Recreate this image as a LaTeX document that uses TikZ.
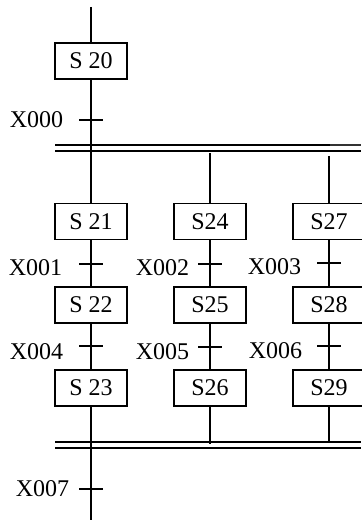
\documentclass[tikz,border=0pt]{standalone}
\usepackage{fontspec}
\setmainfont{Liberation Serif}
\begin{document}
\begin{tikzpicture}[x=1pt,y=-1pt,line width=1.6pt,
  stepbox/.style={draw,minimum width=72pt,minimum height=36pt,inner sep=0pt,font=\fontsize{24}{28}\selectfont},
  lab/.style={anchor=east,inner sep=0pt,font=\fontsize{24}{28}\selectfont},
  trans/.style={line width=1.6pt}]
\useasboundingbox (0,0) rectangle (361,521);
% steps
\node[stepbox] (s20) at (91,61) {S 20};
\node[stepbox] (s21) at (91,221.5) {S 21};
\node[stepbox] (s22) at (91,305) {S 22};
\node[stepbox] (s23) at (91,388) {S 23};
\node[stepbox] (s24) at (210,221.5) {S24};
\node[stepbox] (s25) at (210,305) {S25};
\node[stepbox] (s26) at (210,388) {S26};
\node[stepbox] (s27) at (329,221.5) {S27};
\node[stepbox] (s28) at (329,305) {S28};
\node[stepbox] (s29) at (329,388) {S29};
% free ends
\coordinate (top) at (91,7);
\coordinate (bot) at (91,520);
\coordinate (c2top) at (210,153);
\coordinate (c3top) at (329,156);
\coordinate (c2bot) at (210,444);
\coordinate (c3bot) at (329,442);
% vertical links
\draw (top) -- (s20);
\draw (s20) -- (s21);
\draw (s21) -- (s22);
\draw (s22) -- (s23);
\draw (s23) -- (bot);
\draw (c2top) -- (s24);
\draw (s24) -- (s25);
\draw (s25) -- (s26);
\draw (s26) -- (c2bot);
\draw (c3top) -- (s27);
\draw (s27) -- (s28);
\draw (s28) -- (s29);
\draw (s29) -- (c3bot);
% double bars
\coordinate (b1l) at (55,145);
\coordinate (b1m) at (330,145);
\coordinate (b1r) at (361,145);
\coordinate (b2l) at (55,151);
\coordinate (b2r) at (361,151);
\coordinate (b3l) at (55,442);
\coordinate (b3r) at (361,442);
\coordinate (b4l) at (55,448);
\coordinate (b4r) at (361,448);
\draw[line width=2.4pt] (b1l) -- (b1m);
\draw[line width=2.4pt,black!80] (b1m) -- (b1r);
\draw (b2l) -- (b2r);
\draw (b3l) -- (b3r);
\draw (b4l) -- (b4r);
% transitions
\foreach \n/\x/\y in {t0/91/120,t1/91/264,t2/210/264,t3/329/263,t4/91/346,t5/210/347,t6/329/346,t7/91/489}{
  \coordinate (\n) at (\x,\y);
  \draw[trans] (\n) ++(-12,0) -- ++(24,0);
}
% labels
\node[lab] (l0) at (64,120) {X000};
\node[lab] (l1) at (63,268) {X001};
\node[lab] (l2) at (190,268) {X002};
\node[lab] (l3) at (302,267) {X003};
\node[lab] (l4) at (64,352) {X004};
\node[lab] (l5) at (190,352) {X005};
\node[lab] (l6) at (303,351) {X006};
\node[lab] (l7) at (70,489) {X007};
\end{tikzpicture}
\end{document}
